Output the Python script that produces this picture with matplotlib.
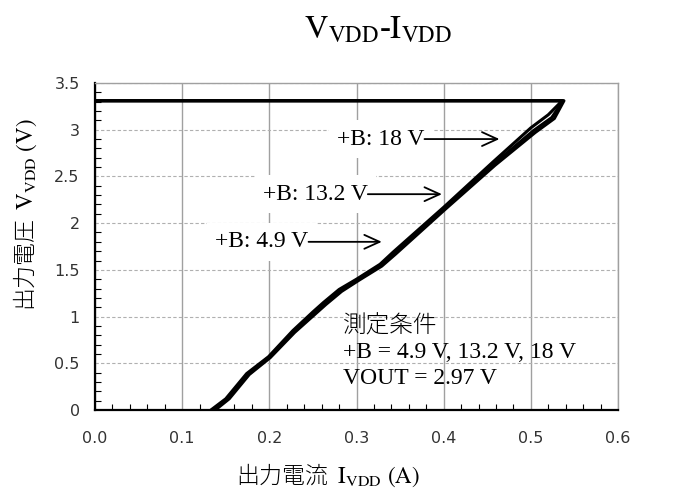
import matplotlib
matplotlib.use('Agg')
import matplotlib.pyplot as plt
from matplotlib.ticker import MultipleLocator, FormatStrFormatter

plt.rcParams['mathtext.fontset'] = 'stix'

# three traces (+B = 4.9 V, 13.2 V, 18 V), current in A / voltage in V
i_49 = [0.133, 0.150, 0.174, 0.199, 0.227, 0.250, 0.262, 0.280, 0.300, 0.327, 0.342, 0.400, 0.456, 0.500, 0.520, 0.536, 0.0]
v_49 = [0.00, 0.12, 0.39, 0.57, 0.85, 1.05, 1.15, 1.29, 1.40, 1.56, 1.69, 2.17, 2.65, 3.02, 3.16, 3.31, 3.31]
i_132 = [0.136, 0.152, 0.176, 0.200, 0.228, 0.252, 0.264, 0.282, 0.302, 0.328, 0.344, 0.401, 0.457, 0.503, 0.524, 0.537, 0.0]
v_132 = [0.00, 0.12, 0.38, 0.57, 0.84, 1.04, 1.14, 1.28, 1.40, 1.55, 1.68, 2.16, 2.63, 2.99, 3.13, 3.31, 3.31]
i_18 = [0.138, 0.154, 0.177, 0.201, 0.229, 0.253, 0.265, 0.283, 0.303, 0.329, 0.345, 0.402, 0.459, 0.505, 0.527, 0.538, 0.0]
v_18 = [0.00, 0.12, 0.38, 0.56, 0.83, 1.03, 1.13, 1.27, 1.39, 1.54, 1.67, 2.15, 2.62, 2.97, 3.12, 3.31, 3.31]

labels = ['+B: 4.9 V', '+B: 13.2 V', '+B: 18 V']
arrow_tail_i = [0.245, 0.313, 0.378]
arrow_head_i = [0.329, 0.398, 0.464]
arrow_v = [1.80, 2.31, 2.90]

cond_text = '測定条件\n+B = 4.9 V, 13.2 V, 18 V\nVOUT = 2.97 V'

fig = plt.figure(figsize=(6.76, 4.93), dpi=100)
ax = fig.add_axes([95 / 676, 83 / 493, 523 / 676, 327 / 493])

ax.set_xlim(0, 0.6)
ax.set_ylim(0, 3.5)

ax.xaxis.set_major_locator(MultipleLocator(0.1))
ax.xaxis.set_minor_locator(MultipleLocator(0.02))
ax.yaxis.set_major_locator(MultipleLocator(0.5))
ax.yaxis.set_minor_locator(MultipleLocator(0.1))
ax.xaxis.set_major_formatter(FormatStrFormatter('%.1f'))
ax.yaxis.set_major_formatter(FormatStrFormatter('%g'))

ax.grid(True, axis='x', color='#a0a0a0', lw=1.0, ls='-', zorder=0)
ax.grid(True, axis='y', color='#b0b0b0', lw=0.8, ls=(0, (3, 2)), zorder=0)

ax.tick_params(which='both', direction='in', top=False, right=False,
               labelsize=11.5, labelcolor='#333333')
ax.tick_params(which='major', length=0)
ax.tick_params(axis='x', which='major', pad=15)
ax.tick_params(axis='y', which='major', pad=11)
ax.tick_params(which='minor', length=4, width=0.8)

for s in ['left', 'bottom']:
    ax.spines[s].set_linewidth(1.6)
    ax.spines[s].set_color('black')
for s in ['top', 'right']:
    ax.spines[s].set_linewidth(1.0)
    ax.spines[s].set_color('#a0a0a0')

for ii, vv in [(i_49, v_49), (i_132, v_132), (i_18, v_18)]:
    ax.plot(ii, vv, color='black', lw=2.2, zorder=3, solid_joinstyle='round')

serif = ['Liberation Serif', 'Noto Sans CJK JP']
for lab, t, h, v in zip(labels, arrow_tail_i, arrow_head_i, arrow_v):
    ax.text(t, v, lab, ha='right', va='center', fontsize=17, family=serif,
            bbox=dict(fc='white', ec='none', pad=6), zorder=4)
    ax.annotate('', xy=(h, v), xytext=(t, v),
                arrowprops=dict(arrowstyle='->,head_length=1.1,head_width=0.5',
                                color='black', lw=1.3, shrinkA=0, shrinkB=0),
                zorder=5)

ax.text(0.285, 1.02, cond_text, ha='left', va='top', fontsize=17,
        family=serif, weight='light', linespacing=1.3, zorder=4)

fig.text(378 / 676, 1 - 30 / 493, r'$\mathrm{V_{VDD}}$-$\mathrm{I_{VDD}}$',
         ha='center', va='center', fontsize=23.5, family='Liberation Serif')
fig.text(328 / 676, 1 - 475 / 493, r'出力電流  $\mathrm{I_{VDD}\ (A)}$',
         ha='center', va='center', fontsize=16.5, family='Noto Sans CJK JP',
         weight='light')
fig.text(25 / 676, 1 - 215 / 493, r'出力電圧  $\mathrm{V_{VDD}\ (V)}$',
         ha='center', va='center', rotation=90, fontsize=16.5,
         family='Noto Sans CJK JP', weight='light')

fig.savefig('out.png', dpi=100)
